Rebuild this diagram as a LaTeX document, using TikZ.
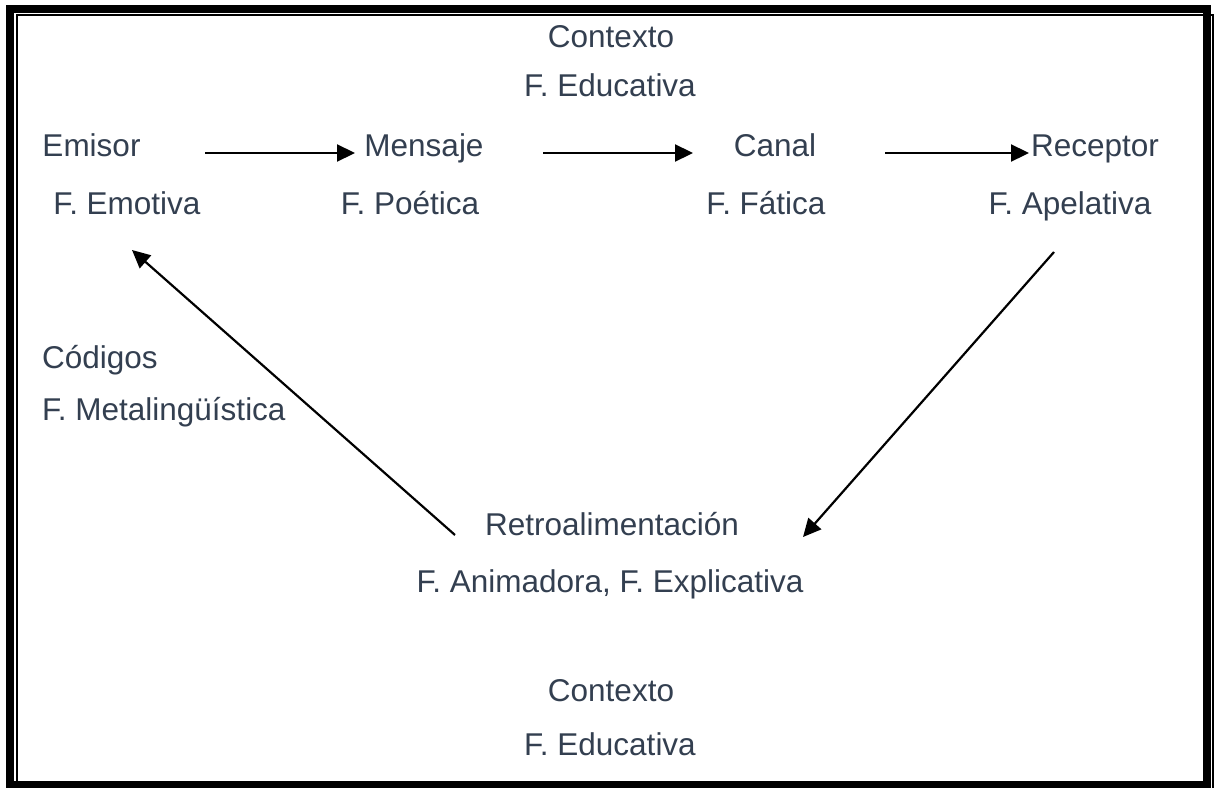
\documentclass[tikz,border=0pt]{standalone}
\usepackage{fontspec}
\setmainfont{Liberation Sans}
\usetikzlibrary{arrows.meta}
\definecolor{txt}{RGB}{51,63,80}
\begin{document}
\begin{tikzpicture}[x=1pt,y=-1pt,
  lbl/.style={inner sep=0pt,anchor=base,text=txt,font=\fontsize{31.5}{36}\selectfont},
  lblw/.style={lbl,anchor=base west},
  conn/.style={line width=2.2pt,-{Triangle[length=18pt,width=17pt]}}]
\useasboundingbox (0,0) rectangle (1214,787);
\clip (0,0) rectangle (1214,787);
\fill[white] (0,0) rectangle (1214,787);
% frame
\draw[line width=8pt] (10,9) rectangle (1207,785);
\draw[line width=1.8pt] (17,15) rectangle (1212.6,795);
% texts
\node[lbl] (ctx1) at (611,47) {Contexto};
\node[lbl] (edu1) at (610,96) {F. Educativa};
\node[lbl] (emi) at (91.5,156) {Emisor};
\node[lbl] (emo) at (127,214) {F. Emotiva};
\node[lbl] (men) at (424,156) {Mensaje};
\node[lbl] (poe) at (410,214) {F. Poética};
\node[lbl] (can) at (775,156) {Canal};
\node[lbl] (fat) at (766,214) {F. Fática};
\node[lbl] (rec) at (1095,156) {Receptor};
\node[lbl] (ape) at (1070,214) {F. Apelativa};
\node[lblw] (cod) at (42,368) {Códigos};
\node[lblw] (met) at (42,420) {F. Metalingüística};
\node[lbl] (ret) at (612,535) {Retroalimentación};
\node[lbl] (ani) at (610,592) {F. Animadora, F. Explicativa};
\node[lbl] (ctx2) at (611,701) {Contexto};
\node[lbl] (edu2) at (610,755) {F. Educativa};
% connector end points
\coordinate (a1s) at (205,153);
\coordinate (a1e) at (355,153);
\coordinate (a2s) at (543,153);
\coordinate (a2e) at (693,153);
\coordinate (a3s) at (885,153);
\coordinate (a3e) at (1029,153);
\coordinate (a4s) at (1054,252);
\coordinate (a4e) at (803,537);
\coordinate (a5s) at (455,535);
\coordinate (a5e) at (132,250);
\draw[conn] (a1s) -- (a1e);
\draw[conn] (a2s) -- (a2e);
\draw[conn] (a3s) -- (a3e);
\draw[conn] (a4s) -- (a4e);
\draw[conn] (a5s) -- (a5e);
\end{tikzpicture}
\end{document}
